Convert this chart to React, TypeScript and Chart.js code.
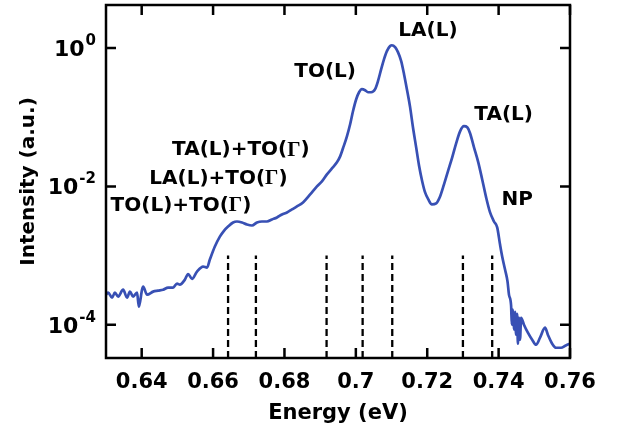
import React, { useEffect, useRef } from "react";
import { Chart, registerables } from "chart.js";

Chart.register(...registerables);

// ---- data ----
const energy = [
  0.6300, 0.6306, 0.6317, 0.6325, 0.6334, 0.6348, 0.6359, 0.6367, 0.6376, 0.6387,
  0.6392, 0.6401, 0.6404, 0.6415, 0.6432, 0.6446, 0.6460, 0.6474, 0.6488, 0.6499,
  0.6507, 0.6521, 0.6530, 0.6541, 0.6555, 0.6572, 0.6583, 0.6591, 0.6605, 0.6619,
  0.6631, 0.6642, 0.6656, 0.6667, 0.6681, 0.6695, 0.6709, 0.6723, 0.6737, 0.6751,
  0.6765, 0.6779, 0.6793, 0.6807, 0.6821, 0.6835, 0.6852, 0.6872, 0.6891, 0.6905,
  0.6919, 0.6933, 0.6947, 0.6956, 0.6964, 0.6975, 0.6984, 0.6992, 0.7001, 0.7009,
  0.7017, 0.7026, 0.7034, 0.7043, 0.7054, 0.7062, 0.7071, 0.7079, 0.7087, 0.7096,
  0.7101, 0.7110, 0.7118, 0.7127, 0.7135, 0.7143, 0.7152, 0.7160, 0.7169, 0.7177,
  0.7186, 0.7194, 0.7203, 0.7213, 0.7225, 0.7236, 0.7247, 0.7258, 0.7270, 0.7281,
  0.7292, 0.7303, 0.7312, 0.7320, 0.7331, 0.7343, 0.7354, 0.7365, 0.7376, 0.7387,
  0.7396, 0.7404, 0.7410, 0.7418, 0.7425, 0.7429, 0.7435, 0.7437, 0.7440, 0.7443,
  0.7446, 0.7449, 0.7452, 0.7454, 0.7457, 0.7460, 0.7463, 0.7471, 0.7482, 0.7494,
  0.7505, 0.7516, 0.7530, 0.7538, 0.7550, 0.7561, 0.7575, 0.7587, 0.7600,
];

const intensity = [
  2.72e-4, 2.91e-4, 2.46e-4, 2.91e-4, 2.55e-4, 3.21e-4, 2.46e-4, 3.01e-4, 2.55e-4, 2.91e-4,
  1.82e-4, 3.21e-4, 3.56e-4, 2.72e-4, 3.01e-4, 3.11e-4, 3.21e-4, 3.44e-4, 3.44e-4, 3.93e-4,
  3.80e-4, 4.49e-4, 5.40e-4, 4.60e-4, 5.86e-4, 6.93e-4, 6.70e-4, 8.75e-4, 1.35e-3, 1.88e-3,
  2.30e-3, 2.63e-3, 3.01e-3, 3.11e-3, 3.01e-3, 2.81e-3, 2.72e-3, 3.01e-3, 3.11e-3, 3.11e-3,
  3.33e-3, 3.56e-3, 3.93e-3, 4.20e-3, 4.64e-3, 5.13e-3, 5.86e-3, 7.66e-3, 1.00e-2, 1.18e-2,
  1.49e-2, 1.82e-2, 2.23e-2, 2.72e-2, 3.56e-2, 5.31e-2, 7.92e-2, 0.122, 0.182, 0.230,
  0.255, 0.246, 0.230, 0.230, 0.255, 0.333, 0.497, 0.694, 0.906, 1.07,
  1.10, 1.03, 0.875, 0.649, 0.420, 0.255, 0.140, 0.0716, 0.0367, 0.0201,
  0.0118, 8.18e-3, 6.49e-3, 5.48e-3, 5.68e-3, 7.16e-3, 1.07e-2, 1.65e-2, 2.63e-2, 4.20e-2,
  6.26e-2, 7.42e-2, 7.16e-2, 5.86e-2, 3.67e-2, 2.23e-2, 1.26e-2, 6.93e-3, 4.20e-3, 3.11e-3,
  2.55e-3, 1.44e-3, 9.68e-4, 6.27e-4, 4.20e-4, 2.72e-4, 1.88e-4, 1.00e-4, 1.65e-4, 8.47e-5,
  1.54e-4, 7.16e-5, 1.44e-4, 5.31e-5, 1.26e-4, 6.06e-5, 1.26e-4, 1.00e-4, 7.66e-5, 6.06e-5,
  5.13e-5, 6.49e-5, 9.05e-5, 7.16e-5, 5.31e-5, 4.64e-5, 4.64e-5, 4.97e-5, 5.31e-5,
];

// phonon-replica markers (dashed lines), drawn from the axis bottom up to this intensity
const replicaEnergies = [0.6642, 0.672, 0.6918, 0.7019, 0.7102, 0.73, 0.7382];
const replicaTop = 1e-3;

const xTickValues = [0.64, 0.66, 0.68, 0.7, 0.72, 0.74, 0.76];
const xTickLabels = ["0.64", "0.66", "0.68", "0.7", "0.72", "0.74", "0.76"];
const yTickValues = [1e-4, 1e-2, 1];
const yTickBase = ["10", "10", "10"];
const yTickExponent = ["-4", "-2", "0"];

const peakLabels = ["LA(L)", "TO(L)", "TA(L)", "NP", "TA(L)+TO(\u0393)", "LA(L)+TO(\u0393)", "TO(L)+TO(\u0393)"];
const peakLabelEnergy = [0.7202, 0.6914, 0.7414, 0.7452, 0.6678, 0.6615, 0.651];
const peakLabelIntensity = [1.76, 0.46, 0.107, 6.5e-3, 0.0333, 0.01286, 5.31e-3];

const xMin = 0.63;
const xMax = 0.76;
const yMin = 3.3e-5;
const yMax = 4.2;

const FONT = "'DejaVu Sans', sans-serif";
const LINE_COLOR = "#3850b4";

const framePlugin = {
  id: "frameAndLabels",
  afterDatasetsDraw(chart: any) {
    const { ctx, chartArea: a, scales } = chart;
    ctx.save();
    // frame
    ctx.strokeStyle = "#000";
    ctx.lineWidth = 2.5;
    ctx.strokeRect(a.left, a.top, a.right - a.left, a.bottom - a.top);
    // inward ticks
    const L = 10;
    ctx.beginPath();
    xTickValues.forEach((v) => {
      const p = scales.x.getPixelForValue(v);
      ctx.moveTo(p, a.bottom);
      ctx.lineTo(p, a.bottom - L);
      ctx.moveTo(p, a.top);
      ctx.lineTo(p, a.top + L);
    });
    yTickValues.forEach((v) => {
      const p = scales.y.getPixelForValue(v);
      ctx.moveTo(a.left, p);
      ctx.lineTo(a.left + L, p);
      ctx.moveTo(a.right, p);
      ctx.lineTo(a.right - L, p);
    });
    ctx.stroke();

    ctx.fillStyle = "#000";

    // y tick labels: 10 with raised exponent
    yTickValues.forEach((v, i) => {
      const p = scales.y.getPixelForValue(v);
      ctx.font = `bold 15px ${FONT}`;
      ctx.textBaseline = "alphabetic";
      ctx.textAlign = "right";
      const expRight = a.left - 10;
      ctx.fillText(yTickExponent[i], expRight, p - 3);
      const expW = ctx.measureText(yTickExponent[i]).width;
      ctx.font = `bold 22px ${FONT}`;
      ctx.fillText(yTickBase[i], expRight - expW - 1, p + 8);
    });

    // peak labels (Γ in a serif face)
    ctx.textBaseline = "middle";
    ctx.textAlign = "left";
    const sansFont = `bold 20px ${FONT}`;
    const serifFont = `bold 21px 'Liberation Serif', serif`;
    peakLabels.forEach((label, i) => {
      const cx = scales.x.getPixelForValue(peakLabelEnergy[i]);
      const cy = scales.y.getPixelForValue(peakLabelIntensity[i]);
      const parts: { t: string; f: string }[] = [];
      let buf = "";
      for (const ch of label) {
        if (ch === "\u0393") {
          if (buf) parts.push({ t: buf, f: sansFont });
          parts.push({ t: ch, f: serifFont });
          buf = "";
        } else buf += ch;
      }
      if (buf) parts.push({ t: buf, f: sansFont });
      let total = 0;
      parts.forEach((p) => {
        ctx.font = p.f;
        total += ctx.measureText(p.t).width;
      });
      let x = cx - total / 2;
      parts.forEach((p) => {
        ctx.font = p.f;
        ctx.fillText(p.t, x, cy);
        x += ctx.measureText(p.t).width;
      });
    });
    ctx.restore();
  },
};

export default function App() {
  const canvasRef = useRef<HTMLCanvasElement | null>(null);

  useEffect(() => {
    if (!canvasRef.current) return;
    const spectrum = energy.map((x, i) => ({ x, y: intensity[i] }));
    const replicaSets = replicaEnergies.map((e) => ({
      data: [
        { x: e, y: yMin },
        { x: e, y: replicaTop },
      ],
      borderColor: "#000",
      borderWidth: 2.3,
      borderDash: [7, 4],
      pointRadius: 0,
      fill: false,
    }));

    const tickFont = { family: FONT, size: 21, weight: "bold" as const };

    const chart = new Chart(canvasRef.current, {
      type: "line",
      data: {
        datasets: [
          ...replicaSets,
          {
            data: spectrum,
            borderColor: LINE_COLOR,
            borderWidth: 2.7,
            pointRadius: 0,
            fill: false,
            cubicInterpolationMode: "monotone",
          },
        ] as any,
      },
      options: {
        animation: false,
        responsive: true,
        maintainAspectRatio: false,
        layout: { padding: { top: 5, right: 47, left: 0, bottom: 0 } },
        plugins: { legend: { display: false }, tooltip: { enabled: false } },
        scales: {
          x: {
            type: "linear",
            min: xMin,
            max: xMax,
            afterBuildTicks: (s: any) => {
              s.ticks = xTickValues.map((v) => ({ value: v }));
            },
            afterFit: (s: any) => {
              s.height = 79;
              s.paddingLeft = 0;
              s.paddingRight = 0;
            },
            grid: { display: false, drawTicks: false },
            border: { display: false },
            ticks: {
              callback: (_v: any, i: number) => xTickLabels[i],
              font: tickFont,
              color: "#000",
              padding: 12,
              autoSkip: false,
              maxRotation: 0,
            },
            title: {
              display: true,
              text: "Energy (eV)",
              font: { family: FONT, size: 21, weight: "bold" },
              color: "#000",
              padding: { top: 0, bottom: 11 },
            },
          },
          y: {
            type: "logarithmic",
            min: yMin,
            max: yMax,
            afterBuildTicks: (s: any) => {
              s.ticks = yTickValues.map((v) => ({ value: v }));
            },
            afterFit: (s: any) => {
              s.width = 106;
              s.paddingTop = 0;
              s.paddingBottom = 0;
            },
            grid: { display: false, drawTicks: false },
            border: { display: false },
            ticks: { display: false },
            title: {
              display: true,
              text: "Intensity (a.u.)",
              font: { family: FONT, size: 20, weight: "bold" },
              color: "#000",
              padding: { top: 17, bottom: 0 },
            },
          },
        },
      } as any,
      plugins: [framePlugin],
    });
    return () => chart.destroy();
  }, []);

  return (
    <div style={{ position: "absolute", left: 0, top: 0, width: 617, height: 437, background: "#fff" }}>
      <canvas ref={canvasRef} />
    </div>
  );
}
